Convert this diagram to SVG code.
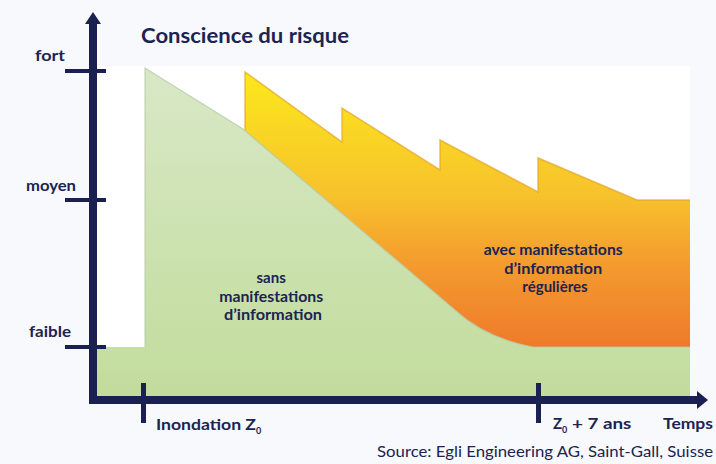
<svg xmlns="http://www.w3.org/2000/svg" width="716" height="464" viewBox="0 0 716 464">
  <style>
    .lbl { font-family: Lato, "Open Sans", "DejaVu Sans", sans-serif; font-weight: 700; fill: #1b2452; }
    .axis { fill: #1a2150; }
    .src { font-family: Lato, "Open Sans", "DejaVu Sans", sans-serif; font-weight: 400; fill: #1b2452; }
  </style>
  <defs>
    <linearGradient id="gOrange" gradientUnits="userSpaceOnUse" x1="0" y1="70" x2="0" y2="347">
      <stop offset="0" stop-color="#fbe91c"/>
      <stop offset="0.45" stop-color="#f7c22c"/>
      <stop offset="0.7" stop-color="#f49b2e"/>
      <stop offset="1" stop-color="#ef7a2a"/>
    </linearGradient>
    <linearGradient id="gGreen" gradientUnits="userSpaceOnUse" x1="0" y1="68" x2="0" y2="400">
      <stop offset="0" stop-color="#d8e8c6"/>
      <stop offset="1" stop-color="#c2dc9c"/>
    </linearGradient>
  </defs>

  <rect x="0" y="0" width="716" height="464" fill="#f7f9fc"/>
  <rect x="97" y="66" width="593" height="330" fill="#ffffff"/>

  <g id="area-avec">
    <path d="M245,72 L342,142 L342,108 L440,170 L440,140 L538,192 L538,158 L637,200 L690,200 L690,347 L245,347 Z" fill="url(#gOrange)"/>
    <path d="M245,130 L245,72 L342,142 L342,108 L440,170 L440,140 L538,192 L538,158 L637,200 L690,200" fill="none" stroke="#e0a42a" stroke-width="1.5" stroke-opacity="0.7"/>
  </g>

  <g id="area-sans">
    <path d="M97,347 L145,347 L145,68 L243,129 L455,310 Q485,338 533,347 L690,347 L690,396 L97,396 Z" fill="url(#gGreen)"/>
    <path d="M145,347 L145,68 L243,129 L455,310 Q485,338 533,347 L690,347" fill="none" stroke="#b9c9a8" stroke-width="1.2" stroke-opacity="0.8"/>
  </g>

  <g id="connectors">
    <rect class="axis" x="89" y="22" width="8" height="382"/>
    <polygon class="axis" points="85,24 93,12 101,24"/>
    <rect class="axis" x="89" y="396" width="610" height="8"/>
    <polygon class="axis" points="697,391 708,400 697,409"/>
    <rect class="axis" x="65" y="69" width="41" height="4"/>
    <rect class="axis" x="65" y="198" width="41" height="4"/>
    <rect class="axis" x="65" y="345" width="41" height="4"/>
    <rect class="axis" x="141" y="383" width="5" height="40"/>
    <rect class="axis" x="536" y="383" width="5" height="40"/>
  </g>

  <g id="title">
    <text class="lbl" x="141" y="43" font-size="20" textLength="208" lengthAdjust="spacingAndGlyphs">Conscience du risque</text>
  </g>

  <g id="y-labels">
    <text class="lbl" x="35" y="61" font-size="15" textLength="30" lengthAdjust="spacingAndGlyphs">fort</text>
    <text class="lbl" x="26" y="191" font-size="15" textLength="50" lengthAdjust="spacingAndGlyphs">moyen</text>
    <text class="lbl" x="29" y="337" font-size="15" textLength="42" lengthAdjust="spacingAndGlyphs">faible</text>
  </g>

  <g id="x-labels">
    <text class="lbl" x="156" y="430" font-size="15"><tspan textLength="100" lengthAdjust="spacingAndGlyphs">Inondation Z</tspan><tspan font-size="9" dy="4">0</tspan></text>
    <text class="lbl" x="553" y="429" font-size="15"><tspan>Z</tspan><tspan font-size="9" dy="4">0</tspan><tspan dy="-4" textLength="64" lengthAdjust="spacingAndGlyphs"> + 7 ans</tspan></text>
    <text class="lbl" x="663" y="429" font-size="15" textLength="50" lengthAdjust="spacingAndGlyphs">Temps</text>
  </g>

  <g id="label-sans">
    <text class="lbl" font-size="15" text-anchor="middle">
      <tspan x="273" y="283">sans</tspan>
      <tspan x="273" y="302" textLength="104" lengthAdjust="spacingAndGlyphs">manifestations</tspan>
      <tspan x="273" y="320" textLength="98" lengthAdjust="spacingAndGlyphs">d’information</tspan>
    </text>
  </g>

  <g id="label-avec">
    <text class="lbl" font-size="15" text-anchor="middle">
      <tspan x="555" y="255" textLength="139" lengthAdjust="spacingAndGlyphs">avec manifestations</tspan>
      <tspan x="555" y="274" textLength="98" lengthAdjust="spacingAndGlyphs">d’information</tspan>
      <tspan x="555" y="292">régulières</tspan>
    </text>
  </g>

  <g id="source">
    <text class="src" x="377" y="457" font-size="16" textLength="336" lengthAdjust="spacingAndGlyphs">Source: Egli Engineering AG, Saint-Gall, Suisse</text>
  </g>
</svg>
